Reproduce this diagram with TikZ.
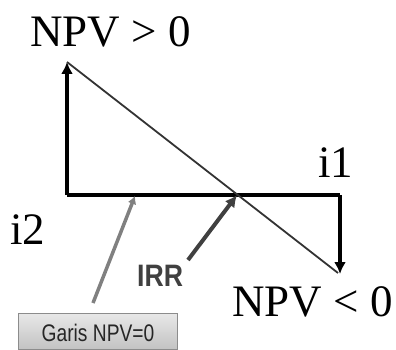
\documentclass[tikz,border=0pt]{standalone}
\usepackage{fontspec}
\setmainfont{Liberation Serif}
\setsansfont{Liberation Sans}
\usetikzlibrary{arrows.meta}
\definecolor{boxfillA}{HTML}{E8E8E8}
\definecolor{boxfillB}{HTML}{C2C2C2}
\definecolor{boxline}{HTML}{8C8C8C}
\definecolor{grayarrow}{HTML}{808080}
\definecolor{darkarrow}{HTML}{404040}
\definecolor{diagline}{HTML}{333333}
\tikzset{
  bigtext/.style={inner sep=0pt, font=\fontsize{45}{50}\selectfont},
  thickarrow/.style={line width=3.4pt, -{Latex[length=12pt,width=12pt]}},
  axisline/.style={line width=3.4pt},
}
\begin{document}
\begin{tikzpicture}[x=1pt,y=-1pt]
\useasboundingbox (0,0) rectangle (396,350);
% coordinates
\coordinate (O) at (67,195);
\coordinate (T) at (67,62);
\coordinate (R) at (340,195);
\coordinate (B) at (340,274);
\coordinate (X) at (237,195);
\coordinate (G) at (135,196);
\coordinate (D) at (338,273);
% texts
\node[bigtext, anchor=base west] (pos) at (30,47) {NPV > 0};
\node[bigtext, anchor=base west] (neg) at (232,316) {NPV < 0};
\node[bigtext, anchor=base west] (i1) at (318,177) {i1};
\node[bigtext, anchor=base west] (i2) at (10,244) {i2};
\node[inner sep=0pt, anchor=base west, text=darkarrow, font=\sffamily\bfseries\fontsize{31}{34}\selectfont, xscale=0.86] (irr) at (137,286) {IRR};
\node[anchor=north west, minimum width=159pt, minimum height=36pt, draw=boxline, line width=1pt, top color=boxfillA, bottom color=boxfillB, inner sep=0pt] (box) at (18,313) {};
\node[inner sep=0pt, font=\sffamily\fontsize{24}{26}\selectfont, xscale=0.8, text=black!85] (boxtext) at ([yshift=-1pt]box.center) {Garis NPV=0};
% axes
\draw[axisline, line join=miter] (O) -- (R);
\draw[thickarrow] (O) -- (T);
\draw[thickarrow] (R) -- (B);
% diagonal
\draw[diagline, line width=1.8pt] (T) -- (D);
% pointer arrows
\draw[grayarrow, line width=3.5pt, -{Latex[length=8pt,width=9pt]}] (93,303) -- (G);
\draw[darkarrow, line width=4pt, -{Latex[length=12pt,width=12pt]}] (188,260) -- (X);
\end{tikzpicture}
\end{document}
